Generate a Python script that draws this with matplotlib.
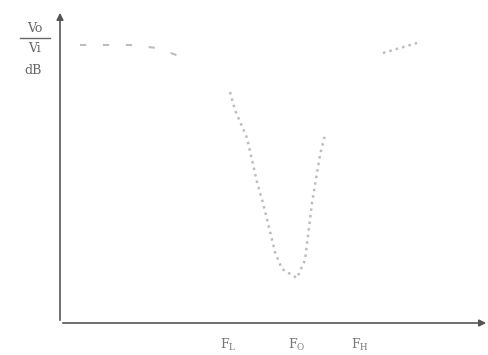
import matplotlib.pyplot as plt
import numpy as np

# notch response (x: frequency, y: gain, arbitrary units)
freq_left = [20, 45, 70, 97, 130]
gain_left = [278, 278, 278, 275, 263]
freq_notch = [170, 175, 187, 197, 203, 215, 222, 237, 245, 252, 260, 265]
gain_notch = [231, 213, 185, 141, 120, 71, 54, 45, 63, 120, 168, 188]
freq_right = [323, 340, 357]
gain_right = [270, 275, 280]

tick_pos = [168, 237, 300]
tick_labels = ["F$_\\mathrm{L}$", "F$_\\mathrm{O}$", "F$_\\mathrm{H}$"]

fig = plt.figure(figsize=(4.89, 3.55), dpi=100)
ax = fig.add_axes([60 / 489, 32 / 355, 429 / 489, 313 / 355])
ax.set_xlim(0, 429)
ax.set_ylim(0, 313)

curve = "#bdbdbd"
ax.plot(freq_left, gain_left, ls=(0, (3, 8)), color=curve, lw=1.5)
ax.plot(freq_notch, gain_notch, ls=":", color=curve, lw=1.8)
ax.plot(freq_right, gain_right, ls=":", color=curve, lw=1.8)

for s in ax.spines.values():
    s.set_visible(False)
ax.set_xticks([])
ax.set_yticks([])

axis_col = "#555555"
ax.annotate("", xy=(429, 0), xytext=(0, 0),
            arrowprops=dict(arrowstyle="-|>", color=axis_col, lw=1.2))
ax.annotate("", xy=(0, 313), xytext=(0, 0),
            arrowprops=dict(arrowstyle="-|>", color=axis_col, lw=1.2))

plt.rcParams['mathtext.fontset'] = 'dejavuserif'
for p, lab in zip(tick_pos, tick_labels):
    ax.text(p, -22, lab, ha="center", va="center", color="#777777",
            family="DejaVu Serif", fontsize=9)

fig.text(35 / 489, 1 - 28 / 355, "Vo", ha="center", va="center",
         color="#666666", family="DejaVu Serif", fontsize=9)
fig.add_artist(plt.Line2D([20 / 489, 50 / 489], [1 - 38 / 355] * 2,
                          color="#666666", lw=1))
fig.text(35 / 489, 1 - 49 / 355, "Vi", ha="center", va="center",
         color="#666666", family="DejaVu Serif", fontsize=9)
fig.text(33 / 489, 1 - 70 / 355, "dB", ha="center", va="center",
         color="#666666", family="DejaVu Serif", fontsize=9)

fig.savefig("out.png", dpi=100)
